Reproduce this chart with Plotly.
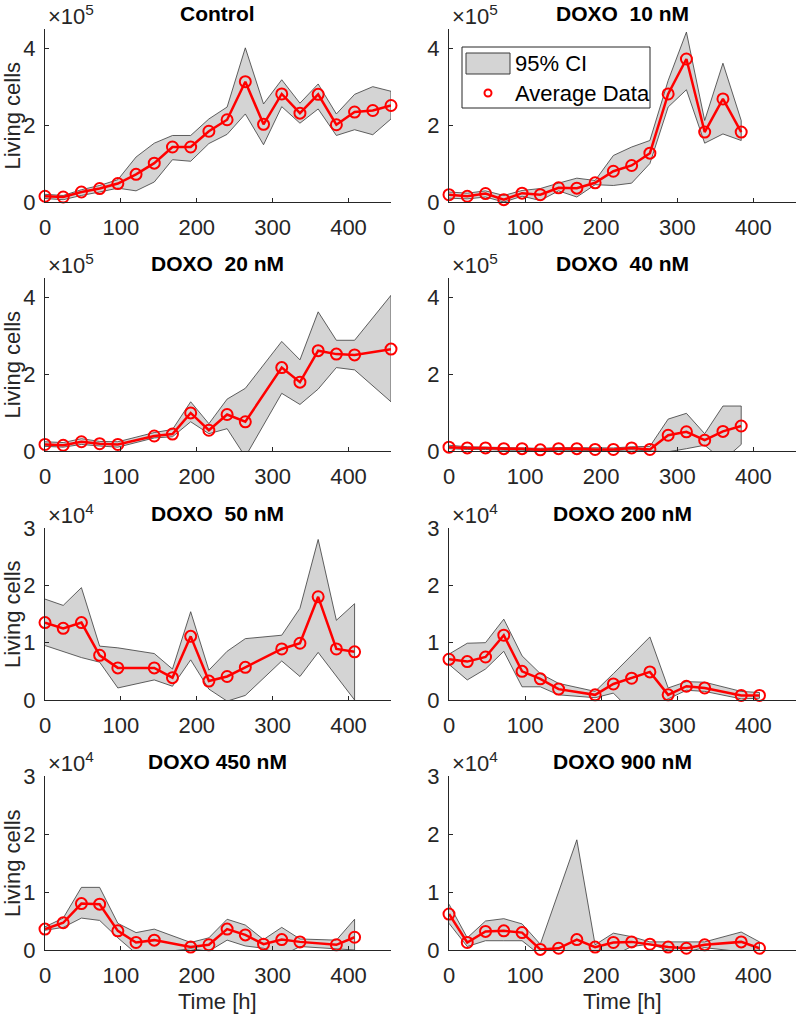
import plotly.graph_objects as go

W, H = 797, 1014

# ---------------- data (rows 1-2 in units of 1e5 cells, rows 3-4 in units of 1e4 cells) ----------------
t_control = [0, 24, 48, 72, 96, 120, 144, 168, 192, 216, 240, 264, 288, 312, 336, 360, 384, 408, 432, 456]
m_control = [0.15, 0.13, 0.26, 0.35, 0.48, 0.72, 1.01, 1.43, 1.43, 1.84, 2.14, 3.13, 2.02, 2.81, 2.31, 2.80, 2.01, 2.34, 2.38, 2.51]
hi_control = [0.20, 0.17, 0.32, 0.43, 0.58, 1.17, 1.53, 1.73, 1.73, 2.16, 2.47, 4.01, 2.55, 3.18, 2.57, 3.07, 2.29, 2.80, 3.00, 2.88]
lo_control = [0.09, 0.06, 0.17, 0.26, 0.36, 0.29, 0.52, 1.10, 1.06, 1.52, 1.76, 2.29, 1.49, 2.48, 2.05, 2.42, 1.73, 1.88, 1.75, 2.16]

t_10 = [0, 24, 48, 72, 96, 120, 144, 168, 192, 216, 240, 264, 288, 312, 336, 360, 384]
m_10 = [0.19, 0.15, 0.22, 0.06, 0.23, 0.19, 0.37, 0.36, 0.50, 0.80, 0.95, 1.27, 2.81, 3.72, 1.82, 2.68, 1.82]
hi_10 = [0.26, 0.23, 0.29, 0.17, 0.30, 0.35, 0.49, 0.62, 0.56, 1.21, 1.43, 1.60, 3.16, 4.42, 2.12, 3.61, 2.12]
lo_10 = [0.10, 0.08, 0.13, 0.00, 0.15, 0.04, 0.29, 0.13, 0.45, 0.43, 0.49, 1.00, 2.47, 2.92, 1.53, 1.77, 1.60]

t_20 = [0, 24, 48, 72, 96, 144, 168, 192, 216, 240, 264, 312, 336, 360, 384, 408, 456]
m_20 = [0.17, 0.15, 0.24, 0.19, 0.17, 0.39, 0.44, 0.99, 0.54, 0.95, 0.76, 2.17, 1.79, 2.61, 2.52, 2.50, 2.65]
hi_20 = [0.24, 0.22, 0.32, 0.25, 0.24, 0.48, 0.56, 1.28, 0.71, 1.35, 1.63, 2.85, 2.37, 3.62, 2.88, 2.88, 4.05]
lo_20 = [0.12, 0.10, 0.17, 0.13, 0.10, 0.34, 0.37, 0.76, 0.45, 0.58, -0.15, 1.50, 1.21, 1.61, 2.17, 2.11, 1.28]

t_40 = [0, 24, 48, 72, 96, 120, 144, 168, 192, 216, 240, 264, 288, 312, 336, 360, 384]
m_40 = [0.10, 0.08, 0.08, 0.06, 0.06, 0.03, 0.06, 0.06, 0.04, 0.04, 0.08, 0.04, 0.41, 0.50, 0.28, 0.51, 0.65]
hi_40 = [0.15, 0.11, 0.10, 0.09, 0.09, 0.07, 0.09, 0.09, 0.08, 0.08, 0.11, 0.12, 0.83, 0.98, 0.45, 1.17, 1.17]
lo_40 = [0.06, 0.04, 0.04, 0.02, 0.02, 0.00, 0.02, 0.02, 0.01, 0.01, 0.03, 0.00, -0.02, 0.06, 0.15, -0.25, 0.17]

t_50 = [0, 24, 48, 72, 96, 144, 168, 192, 216, 240, 264, 312, 336, 360, 384, 408]
m_50 = [1.35, 1.25, 1.35, 0.78, 0.56, 0.56, 0.39, 1.11, 0.33, 0.41, 0.57, 0.89, 0.99, 1.80, 0.89, 0.84]
hi_50 = [1.76, 1.65, 1.96, 0.94, 0.91, 0.81, 0.54, 1.54, 0.52, 0.85, 1.07, 1.13, 1.60, 2.80, 1.39, 1.68]
lo_50 = [0.95, 0.84, 0.74, 0.66, 0.21, 0.35, 0.24, 0.70, 0.19, -0.02, 0.08, 0.68, 0.41, 0.83, 0.41, 0.00]

t_200 = [0, 24, 48, 72, 96, 120, 144, 192, 216, 240, 264, 288, 312, 336, 384, 408]
m_200 = [0.71, 0.67, 0.75, 1.13, 0.50, 0.37, 0.19, 0.09, 0.28, 0.38, 0.49, 0.09, 0.24, 0.21, 0.08, 0.08]
hi_200 = [0.80, 0.99, 1.00, 1.41, 0.77, 0.46, 0.29, 0.15, 0.46, 0.78, 1.10, 0.21, 0.32, 0.31, 0.15, 0.13]
lo_200 = [0.62, 0.35, 0.54, 0.85, 0.23, 0.23, 0.09, 0.04, 0.12, -0.20, -0.10, 0.02, 0.17, 0.15, 0.02, 0.03]

t_450 = [0, 24, 48, 72, 96, 120, 144, 192, 216, 240, 264, 288, 312, 336, 384, 408]
m_450 = [0.36, 0.47, 0.80, 0.79, 0.33, 0.13, 0.17, 0.05, 0.09, 0.36, 0.26, 0.10, 0.18, 0.14, 0.09, 0.22]
hi_450 = [0.40, 0.55, 1.08, 1.08, 0.46, 0.30, 0.36, 0.13, 0.21, 0.53, 0.43, 0.18, 0.39, 0.19, 0.17, 0.53]
lo_450 = [0.34, 0.39, 0.55, 0.51, 0.21, -0.06, -0.05, 0.02, -0.02, 0.17, 0.07, 0.03, -0.10, 0.06, 0.02, 0.00]

t_900 = [0, 24, 48, 72, 96, 120, 144, 168, 192, 216, 240, 264, 288, 312, 336, 384, 408]
m_900 = [0.62, 0.13, 0.32, 0.33, 0.30, 0.01, 0.03, 0.18, 0.05, 0.13, 0.14, 0.10, 0.05, 0.03, 0.09, 0.14, 0.03]
hi_900 = [0.79, 0.21, 0.50, 0.54, 0.45, 0.10, 1.00, 1.90, 0.09, 0.29, 0.23, 0.14, 0.14, 0.14, 0.14, 0.31, 0.14]
lo_900 = [0.46, 0.06, 0.16, 0.16, 0.16, -0.09, -0.08, -0.06, -0.03, -0.10, 0.06, 0.10, 0.00, -0.03, 0.04, -0.03, 0.00]

titles = ["Control", "DOXO\u00a0\u00a010 nM", "DOXO\u00a0\u00a020 nM", "DOXO\u00a0\u00a040 nM",
          "DOXO\u00a0\u00a050 nM", "DOXO 200 nM", "DOXO 450 nM", "DOXO 900 nM"]
exponents = [5, 5, 5, 5, 4, 4, 4, 4]
ymax = [4.5, 4.5, 4.5, 4.5, 3, 3, 3, 3]
yticks_top = [0, 2, 4]
yticks_bot = [0, 1, 2, 3]
xticks = [0, 100, 200, 300, 400]
legend_labels = ["95% CI", "Average Data"]

panels = [
    (t_control, m_control, lo_control, hi_control),
    (t_10, m_10, lo_10, hi_10),
    (t_20, m_20, lo_20, hi_20),
    (t_40, m_40, lo_40, hi_40),
    (t_50, m_50, lo_50, hi_50),
    (t_200, m_200, lo_200, hi_200),
    (t_450, m_450, lo_450, hi_450),
    (t_900, m_900, lo_900, hi_900),
]

# ---------------- layout geometry (pixels) ----------------
col_px = [(45, 391), (449, 796)]
row_px = [(29, 202), (278, 451), (528, 700), (776, 950)]

def fx(p):
    return p / W

def fy(p):
    return 1 - p / H

FONT = "Liberation Sans, Arial, Helvetica, sans-serif"
AX = "#262626"
FILL = "#d4d4d4"
EDGE = "#3a3a3a"
RED = "#ff0000"

fig = go.Figure()
annotations = []
shapes = []
layout = {}

for i, (t, m, lo, hi) in enumerate(panels):
    r, c = divmod(i, 2)
    n = i + 1
    xa = "x" if n == 1 else f"x{n}"
    ya = "y" if n == 1 else f"y{n}"
    xk = "xaxis" if n == 1 else f"xaxis{n}"
    yk = "yaxis" if n == 1 else f"yaxis{n}"
    x0, x1 = col_px[c]
    y0, y1 = row_px[r]

    fig.add_trace(go.Scatter(
        x=list(t) + list(t)[::-1], y=list(hi) + list(lo)[::-1],
        fill="toself", fillcolor=FILL, mode="lines",
        line=dict(color=EDGE, width=0.8),
        name=legend_labels[0], showlegend=False,
        xaxis=xa, yaxis=ya, hoverinfo="skip"))
    fig.add_trace(go.Scatter(
        x=t, y=m, mode="lines+markers",
        line=dict(color=RED, width=2.5),
        marker=dict(symbol="circle-open", size=11, color=RED, line=dict(color=RED, width=2)),
        name=legend_labels[1], showlegend=False, cliponaxis=False,
        xaxis=xa, yaxis=ya))

    layout[xk] = dict(
        domain=[fx(x0), fx(x1)], range=[0, 456], anchor=ya, automargin=False,
        tickvals=xticks, ticktext=[str(v) for v in xticks],
        ticks="inside", ticklen=4, tickcolor=AX, tickwidth=1,
        showline=True, linecolor=AX, linewidth=1, showgrid=False, zeroline=False,
        tickfont=dict(family=FONT, size=22, color=AX), ticklabelstandoff=6,
        fixedrange=True)
    yt = yticks_top if r < 2 else yticks_bot
    layout[yk] = dict(
        domain=[fy(y1), fy(y0)], range=[0, ymax[i]], anchor=xa, automargin=False,
        tickvals=yt, ticktext=[str(v) for v in yt],
        ticks="inside", ticklen=4, tickcolor=AX, tickwidth=1,
        showline=True, linecolor=AX, linewidth=1, showgrid=False, zeroline=False,
        tickfont=dict(family=FONT, size=22, color=AX), ticklabelstandoff=4,
        fixedrange=True)

    annotations.append(dict(
        text=f"<b>{titles[i]}</b>", x=fx((x0 + x1) / 2), y=fy(y0 - 15),
        xref="paper", yref="paper", xanchor="center", yanchor="middle",
        showarrow=False, font=dict(family=FONT, size=21, color="black")))
    annotations.append(dict(
        text=f"\u00d710<sup>{exponents[i]}</sup>", x=fx(x0 + 1), y=fy(y0 - 14),
        xref="paper", yref="paper", xanchor="left", yanchor="middle",
        showarrow=False, font=dict(family=FONT, size=22, color=AX)))
    if c == 0:
        annotations.append(dict(
            text="Living cells", x=fx(12), y=fy((y0 + y1) / 2),
            xref="paper", yref="paper", xanchor="center", yanchor="middle",
            textangle=-90, showarrow=False, font=dict(family=FONT, size=22, color=AX)))
    if r == 3:
        annotations.append(dict(
            text="Time [h]", x=fx((x0 + x1) / 2), y=fy(y1 + 51),
            xref="paper", yref="paper", xanchor="center", yanchor="middle",
            showarrow=False, font=dict(family=FONT, size=22, color=AX)))

# ---------------- legend box (drawn in the DOXO 10 nM panel) ----------------
shapes.append(dict(type="rect", xref="paper", yref="paper",
                   x0=fx(462), x1=fx(650), y0=fy(108), y1=fy(47),
                   fillcolor="white", line=dict(color=AX, width=1), layer="above"))
shapes.append(dict(type="rect", xref="paper", yref="paper",
                   x0=fx(466), x1=fx(510), y0=fy(74), y1=fy(53),
                   fillcolor=FILL, line=dict(color=EDGE, width=1), layer="above"))
annotations.append(dict(text=legend_labels[0], x=fx(513), y=fy(64), xref="paper", yref="paper",
                        xanchor="left", yanchor="middle", showarrow=False,
                        font=dict(family=FONT, size=22, color="black")))
annotations.append(dict(text=legend_labels[1], x=fx(513), y=fy(93), xref="paper", yref="paper",
                        xanchor="left", yanchor="middle", showarrow=False,
                        font=dict(family=FONT, size=22, color="black")))
shapes.append(dict(type="circle", xref="paper", yref="paper",
                   x0=fx(484.5), x1=fx(491.5), y0=fy(96.5), y1=fy(89.5),
                   fillcolor="rgba(0,0,0,0)", line=dict(color=RED, width=2), layer="above"))

fig.update_layout(
    template="none",
    width=W, height=H, margin=dict(l=0, r=0, t=0, b=0, autoexpand=False),
    paper_bgcolor="white", plot_bgcolor="white",
    annotations=annotations, shapes=shapes,
    showlegend=False,
    **layout)

fig.write_html("out.html")
